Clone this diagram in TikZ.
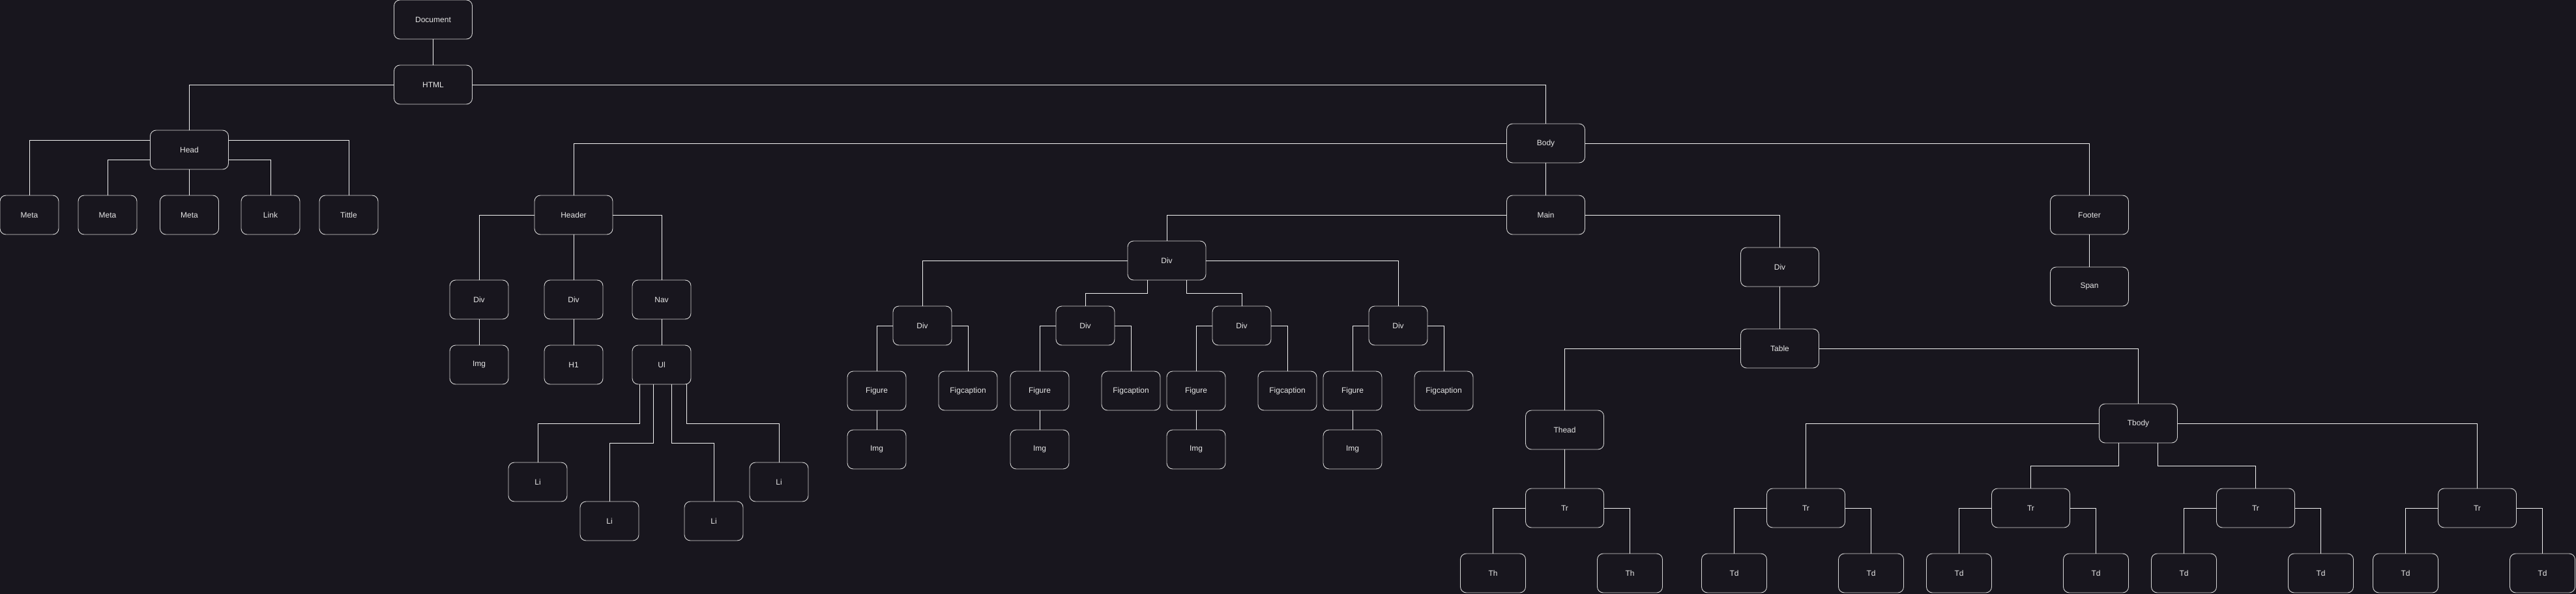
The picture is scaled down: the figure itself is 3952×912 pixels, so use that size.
\documentclass[tikz,border=0pt]{standalone}
\usepackage{fontspec}
\setmainfont{Liberation Sans}
\definecolor{bgc}{HTML}{18161E}
\definecolor{boxc}{HTML}{D6D6D6}
\definecolor{txtc}{HTML}{E6E6E6}
\definecolor{linec}{HTML}{F2F2F2}
\tikzset{
  nbox/.style={draw=boxc, fill=bgc, rounded corners=9pt, line width=0.9pt,
    minimum width=120pt, minimum height=60pt, inner sep=0pt,
    text=txtc, font=\fontsize{12}{14}\selectfont},
  sbox/.style={nbox, minimum width=90pt},
  tbox/.style={nbox, minimum width=100pt},
  conn/.style={draw=linec, line width=0.9pt}
}
\begin{document}
\begin{tikzpicture}[x=1pt,y=-1pt]
\fill[bgc] (0,0) rectangle (3952,912);
\useasboundingbox (0,0) rectangle (3952,912);
% top
\node[nbox] (doc) at (664.5,30) {Document};
\node[nbox] (html) at (664.5,130) {HTML};
\node[nbox] (head) at (290.5,230) {Head};
\node[sbox] (meta1) at (45,330) {Meta};
\node[sbox] (meta2) at (165,330) {Meta};
\node[sbox] (meta3) at (290.5,330) {Meta};
\node[sbox] (link) at (415,330) {Link};
\node[sbox] (tittle) at (535,330) {Tittle};
\node[nbox] (body) at (2371.5,220) {Body};
% header
\node[nbox] (header) at (880,330) {Header};
\node[sbox] (hdiv1) at (735,460) {Div};
\node[sbox] (hdiv2) at (880,460) {Div};
\node[sbox] (nav) at (1015,460) {Nav};
\node[sbox] (himg) at (735,560) {Img};
\node[sbox] (h1) at (880,560) {H1};
\node[sbox] (ul) at (1015,560) {Ul};
\node[sbox] (li1) at (825,740) {Li};
\node[sbox] (li2) at (935,800) {Li};
\node[sbox] (li3) at (1095,800) {Li};
\node[sbox] (li4) at (1195,740) {Li};
% main
\node[nbox] (main) at (2371.5,330) {Main};
\node[nbox] (divm) at (1790,400) {Div};
\node[sbox] (da) at (1415,500) {Div};
\node[sbox] (db) at (1665,500) {Div};
\node[sbox] (dc) at (1905,500) {Div};
\node[sbox] (dd) at (2145,500) {Div};
\node[sbox] (figa) at (1345,600) {Figure};
\node[sbox] (capa) at (1485,600) {Figcaption};
\node[sbox] (figb) at (1595,600) {Figure};
\node[sbox] (capb) at (1735,600) {Figcaption};
\node[sbox] (figc) at (1835,600) {Figure};
\node[sbox] (capc) at (1975,600) {Figcaption};
\node[sbox] (figd) at (2075,600) {Figure};
\node[sbox] (capd) at (2215,600) {Figcaption};
\node[sbox] (imga) at (1345,690) {Img};
\node[sbox] (imgb) at (1595,690) {Img};
\node[sbox] (imgc) at (1835,690) {Img};
\node[sbox] (imgd) at (2075,690) {Img};
% table
\node[nbox] (divt) at (2730.5,410) {Div};
\node[nbox] (table) at (2730.5,535) {Table};
\node[nbox] (thead) at (2400.5,660) {Thead};
\node[nbox] (tbody) at (3280.5,650) {Tbody};
\node[nbox] (tr1) at (2400.5,780) {Tr};
\node[nbox] (tr2) at (2770.5,780) {Tr};
\node[nbox] (tr3) at (3115.5,780) {Tr};
\node[nbox] (tr4) at (3460.5,780) {Tr};
\node[nbox] (tr5) at (3800.5,780) {Tr};
\node[tbox] (th1) at (2290.5,880) {Th};
\node[tbox] (th2) at (2500.5,880) {Th};
\node[tbox] (td1) at (2660.5,880) {Td};
\node[tbox] (td2) at (2870.5,880) {Td};
\node[tbox] (td3) at (3005.5,880) {Td};
\node[tbox] (td4) at (3215.5,880) {Td};
\node[tbox] (td5) at (3350.5,880) {Td};
\node[tbox] (td6) at (3560.5,880) {Td};
\node[tbox] (td7) at (3690.5,880) {Td};
\node[tbox] (td8) at (3900.5,880) {Td};
% footer
\node[nbox] (footer) at (3205.5,330) {Footer};
\node[nbox] (span) at (3205.5,440) {Span};

% connectors
\path[conn] (doc.south) -- (html.north);
\path[conn] (html.west) -| (head.north);
\path[conn] (html.east) -| (body.north);
\path[conn] ([yshift=15pt]head.west) -| (meta1.north);
\path[conn] ([yshift=-15pt]head.west) -| (meta2.north);
\path[conn] (head.south) -- (meta3.north);
\path[conn] ([yshift=-15pt]head.east) -| (link.north);
\path[conn] ([yshift=15pt]head.east) -| (tittle.north);
\path[conn] (body.west) -| (header.north);
\path[conn] (body.south) -- (main.north);
\path[conn] (body.east) -| (footer.north);
\path[conn] (footer.south) -- (span.north);
\path[conn] (header.west) -| (hdiv1.north);
\path[conn] (header.south) -- (hdiv2.north);
\path[conn] (header.east) -| (nav.north);
\path[conn] (hdiv1.south) -- (himg.north);
\path[conn] (hdiv2.south) -- (h1.north);
\path[conn] (nav.south) -- (ul.north);
\path[conn] ([xshift=-34pt]ul.south) -- ++(0,60) -| (li1.north);
\path[conn] ([xshift=-13pt]ul.south) -- ++(0,90) -| (li2.north);
\path[conn] ([xshift=15pt]ul.south) -- ++(0,90) -| (li3.north);
\path[conn] ([xshift=38pt]ul.south) -- ++(0,60) -| (li4.north);
\path[conn] (main.west) -| (divm.north);
\path[conn] (main.east) -| (divt.north);
\path[conn] (divm.west) -| (da.north);
\path[conn] ([xshift=-30pt]divm.south) -- ++(0,20) -| (db.north);
\path[conn] ([xshift=30pt]divm.south) -- ++(0,20) -| (dc.north);
\path[conn] (divm.east) -| (dd.north);
\path[conn] (da.west) -| (figa.north);
\path[conn] (da.east) -| (capa.north);
\path[conn] (db.west) -| (figb.north);
\path[conn] (db.east) -| (capb.north);
\path[conn] (dc.west) -| (figc.north);
\path[conn] (dc.east) -| (capc.north);
\path[conn] (dd.west) -| (figd.north);
\path[conn] (dd.east) -| (capd.north);
\path[conn] (figa.south) -- (imga.north);
\path[conn] (figb.south) -- (imgb.north);
\path[conn] (figc.south) -- (imgc.north);
\path[conn] (figd.south) -- (imgd.north);
\path[conn] (divt.south) -- (table.north);
\path[conn] (table.west) -| (thead.north);
\path[conn] (table.east) -| (tbody.north);
\path[conn] (thead.south) -- (tr1.north);
\path[conn] (tbody.west) -| (tr2.north);
\path[conn] ([xshift=-30pt]tbody.south) -- ++(0,35) -| (tr3.north);
\path[conn] ([xshift=30pt]tbody.south) -- ++(0,35) -| (tr4.north);
\path[conn] (tbody.east) -| (tr5.north);
\path[conn] (tr1.west) -| (th1.north);
\path[conn] (tr1.east) -| (th2.north);
\path[conn] (tr2.west) -| (td1.north);
\path[conn] (tr2.east) -| (td2.north);
\path[conn] (tr3.west) -| (td3.north);
\path[conn] (tr3.east) -| (td4.north);
\path[conn] (tr4.west) -| (td5.north);
\path[conn] (tr4.east) -| (td6.north);
\path[conn] (tr5.west) -| (td7.north);
\path[conn] (tr5.east) -| (td8.north);
\end{tikzpicture}
\end{document}
